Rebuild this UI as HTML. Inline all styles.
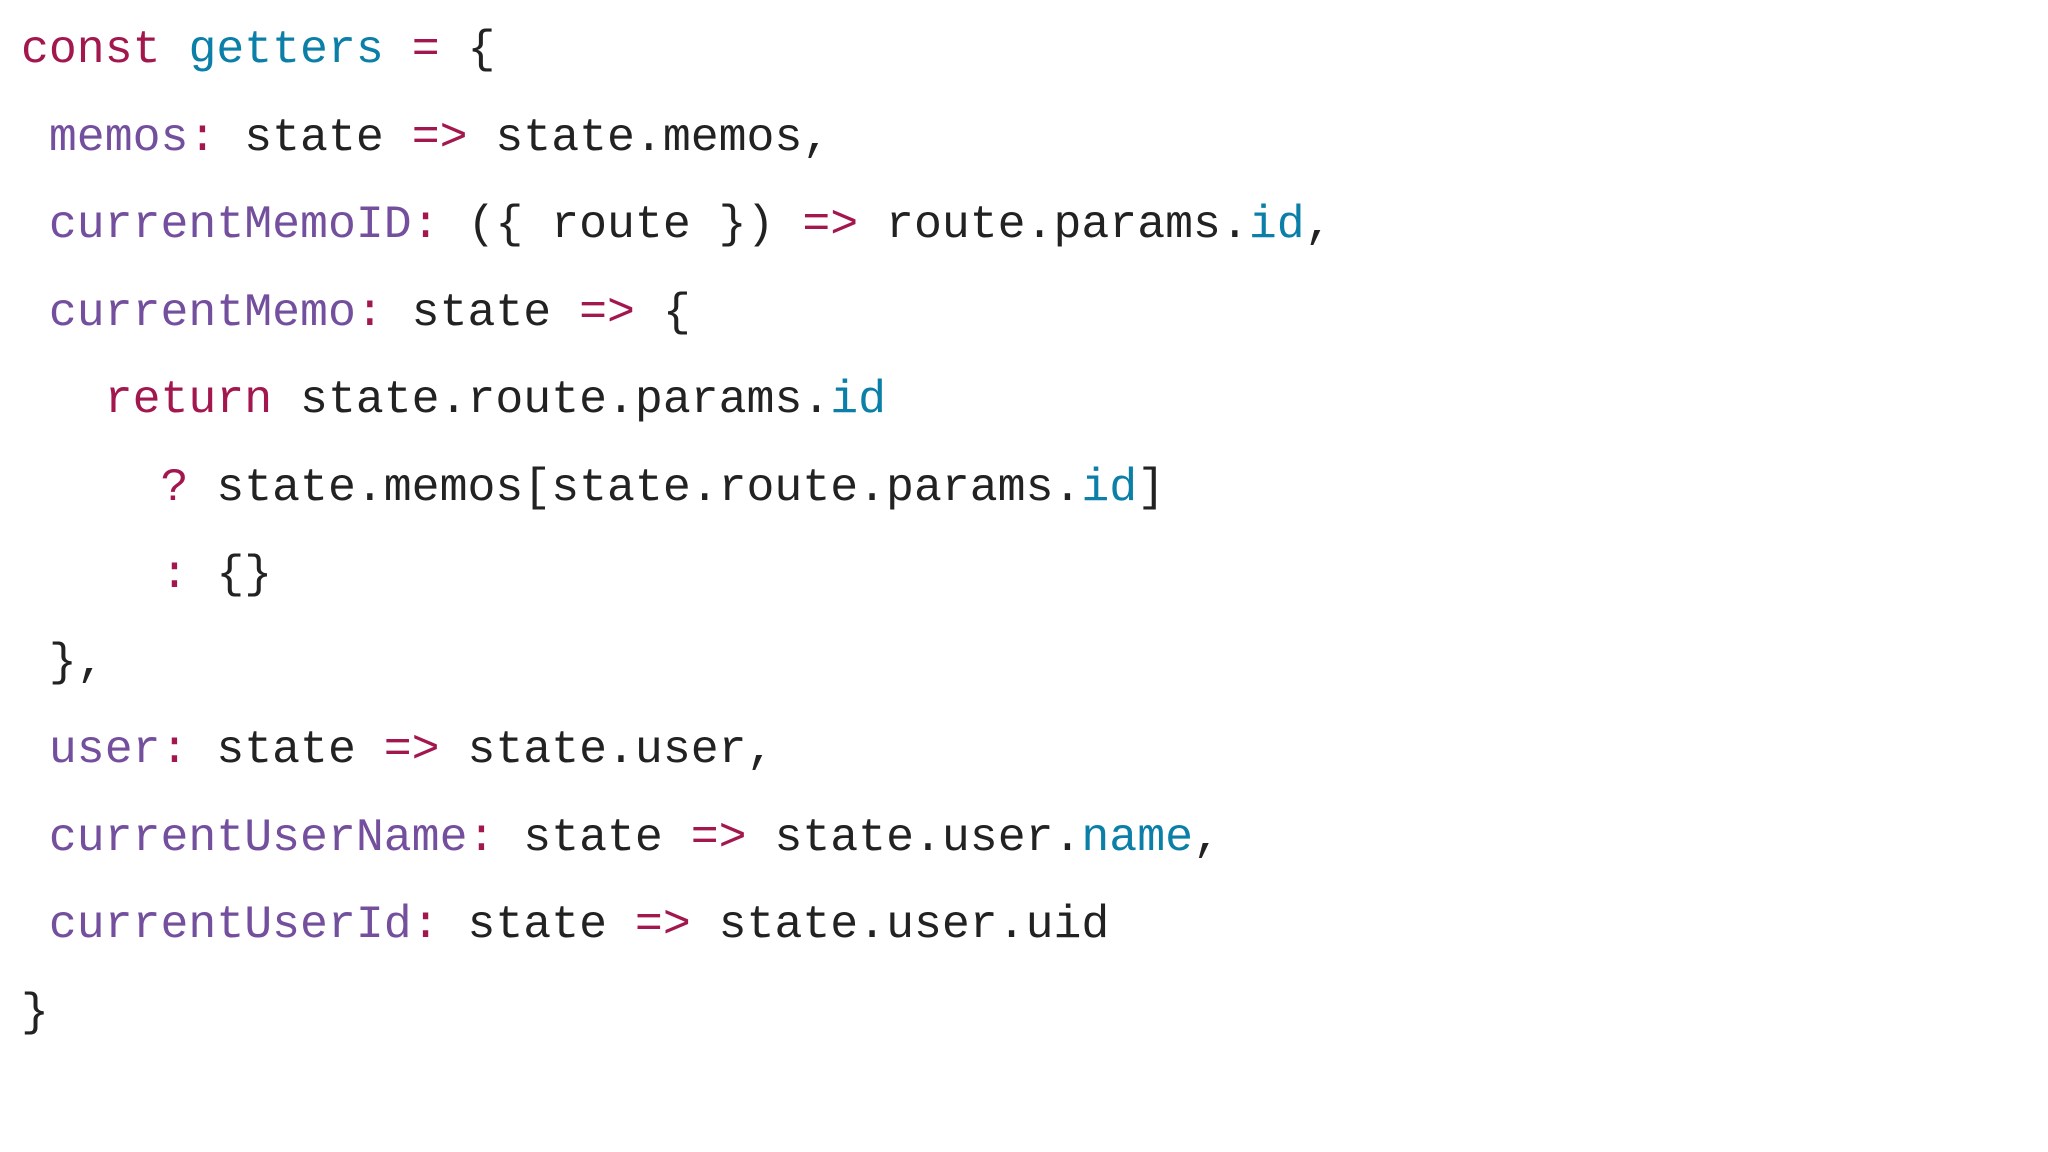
<!DOCTYPE html>
<html><head><meta charset="utf-8"><style>
html,body{margin:0;padding:0;background:#fff;}
body{width:2048px;height:1152px;position:relative;overflow:hidden;
font-family:"Liberation Mono","DejaVu Sans Mono",monospace;font-size:46.5px;color:#222;}
.l{position:absolute;left:21px;height:87.5px;line-height:87.5px;white-space:pre;}
.k{color:#a3174f}
.b{color:#0b7fa8}
.p{color:#744f9e}
</style></head><body>
<div class="l" style="top:6px"><span class="k">const</span> <span class="b">getters</span> <span class="k">=</span> {</div>
<div class="l" style="top:93.5px"> <span class="p">memos</span><span class="k">:</span> state <span class="k">=&gt;</span> state.memos,</div>
<div class="l" style="top:181px"> <span class="p">currentMemoID</span><span class="k">:</span> ({ route }) <span class="k">=&gt;</span> route.params.<span class="b">id</span>,</div>
<div class="l" style="top:268.5px"> <span class="p">currentMemo</span><span class="k">:</span> state <span class="k">=&gt;</span> {</div>
<div class="l" style="top:356px">   <span class="k">return</span> state.route.params.<span class="b">id</span></div>
<div class="l" style="top:443.5px">     <span class="k">?</span> state.memos[state.route.params.<span class="b">id</span>]</div>
<div class="l" style="top:531px">     <span class="k">:</span> {}</div>
<div class="l" style="top:618.5px"> },</div>
<div class="l" style="top:706px"> <span class="p">user</span><span class="k">:</span> state <span class="k">=&gt;</span> state.user,</div>
<div class="l" style="top:793.5px"> <span class="p">currentUserName</span><span class="k">:</span> state <span class="k">=&gt;</span> state.user.<span class="b">name</span>,</div>
<div class="l" style="top:881px"> <span class="p">currentUserId</span><span class="k">:</span> state <span class="k">=&gt;</span> state.user.uid</div>
<div class="l" style="top:968.5px">}</div>
</body></html>
